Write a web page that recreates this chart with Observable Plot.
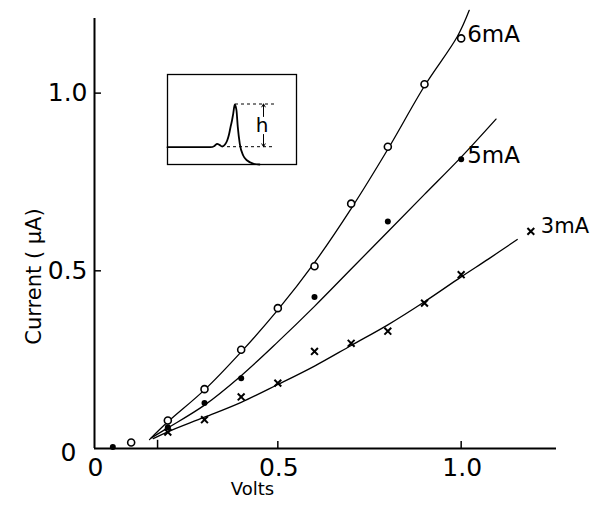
<!DOCTYPE html>
<html>
<head>
<meta charset="utf-8">
<script src="https://cdn.jsdelivr.net/npm/d3@7"></script>
<script src="https://cdn.jsdelivr.net/npm/@observablehq/plot@0.6"></script>
<style>
  html, body { margin: 0; padding: 0; background: #fff; }
  #wrap { position: relative; width: 593px; height: 506px; background: #fff; }
  #inset { position: absolute; left: 167px; top: 74px; }
  svg { overflow: visible; }
</style>
</head>
<body>
<div id="wrap"><div id="main"></div><div id="inset"></div></div>
<script>
// ---- measured points (Volts, µA) ----
const volts6 = [0.1, 0.2, 0.3, 0.4, 0.5, 0.6, 0.7, 0.8, 0.9, 1.0];
const current6 = [0.017, 0.079, 0.167, 0.278, 0.395, 0.513, 0.689, 0.849, 1.025, 1.154];
const volts5 = [0.05, 0.2, 0.3, 0.4, 0.6, 0.8, 1.0];
const current5 = [0.004, 0.06, 0.128, 0.198, 0.426, 0.639, 0.814];
const volts3 = [0.2, 0.3, 0.4, 0.5, 0.6, 0.7, 0.8, 0.9, 1.0, 1.19];
const current3 = [0.046, 0.081, 0.145, 0.184, 0.273, 0.296, 0.33, 0.409, 0.489, 0.611];

// ---- drawn curves ----
const fitVolts6 = [0.15, 0.2, 0.3, 0.4, 0.5, 0.6, 0.7, 0.8, 0.9, 0.99, 1.022];
const fitCurrent6 = [0.025, 0.075, 0.165, 0.272, 0.39, 0.523, 0.675, 0.842, 1.02, 1.16, 1.233];
const fitVolts5 = [0.155, 0.2, 0.3, 0.4, 0.5, 0.6, 0.7, 0.8, 0.9, 1.0, 1.095];
const fitCurrent5 = [0.03, 0.058, 0.122, 0.205, 0.3, 0.4, 0.505, 0.61, 0.715, 0.82, 0.927];
const fitVolts3 = [0.16, 0.2, 0.3, 0.4, 0.5, 0.6, 0.7, 0.8, 0.9, 1.0, 1.074, 1.153];
const fitCurrent3 = [0.028, 0.047, 0.088, 0.13, 0.18, 0.232, 0.29, 0.348, 0.413, 0.483, 0.533, 0.588];

const seriesLabels = ["6mA", "5mA", "3mA"];

// ---- axes ----
const xTickValues = [0, 0.5, 1.0];
const xTickLabels = ["0", "0.5", "1.0"];
const yTickValues = [0.5, 1.0];
const yTickLabels = ["0.5", "1.0"];
const yZeroLabel = ["0"];
const thresholdVolts = [0.172];
const xTitle = "Volts";
const yTitle = "Current ( \u03BCA)";

// ---- inset trace (arbitrary units) ----
const traceX = [0, 43, 47, 49.7, 52, 54.7, 57.5, 59.7, 61.5, 63, 64.5, 65.7, 67.3, 68.2, 69, 70.3, 72.3, 75.7, 79.7, 86.3, 92];
const traceY = [17.3, 17.3, 18.6, 20.7, 19.6, 18, 20, 24, 30, 37.3, 44, 50.7, 60, 58, 54, 37.3, 20.7, 9, 4, 0.7, 0];
const guideLevels = [60.5, 17.8];
const guideStarts = [68, 60];
const guideEnd = [108, 108];
const arrowX = [96, 96];
const arrowFrom = [48, 30];
const arrowTo = [60.5, 17.8];
const insetLabel = ["h"];
const insetLabelPos = [94.7, 39];

const rows = (xs, ys) => xs.map((x, i) => ({x, y: ys[i]}));
const pts6 = rows(volts6, current6);
const pts5 = rows(volts5, current5);
const pts3 = rows(volts3, current3);
const fit6 = rows(fitVolts6, fitCurrent6);
const fit5 = rows(fitVolts5, fitCurrent5);
const fit3 = rows(fitVolts3, fitCurrent3);

const font = "DejaVu Sans, Liberation Sans, sans-serif";

const main = Plot.plot({
  width: 593,
  height: 506,
  marginLeft: 94,
  marginRight: 37,
  marginTop: 18,
  marginBottom: 58,
  x: {domain: [0, 1.26], axis: null},
  y: {domain: [0, 1.21], axis: null},
  style: {fontFamily: font, background: "white", color: "black", overflow: "visible"},
  marks: [
    Plot.ruleY([0], {strokeWidth: 2}),
    Plot.ruleX([0], {strokeWidth: 2}),
    Plot.ruleX(xTickValues.filter(v => v > 0), {x: d => d, y1: 0, y2: 0.02, strokeWidth: 1.5}),
    Plot.ruleY(yTickValues, {y: d => d, x1: 0, x2: 0.019, strokeWidth: 1.5}),
    Plot.ruleX(thresholdVolts, {x: d => d, y1: 0, y2: 0.023, strokeWidth: 1.5}),
    Plot.text(xTickValues, {x: d => d, frameAnchor: "bottom", lineAnchor: "middle", textAnchor: "middle", dy: 19, dx: 1, text: (d, i) => xTickLabels[i], fontSize: 25}),
    Plot.text(yTickValues, {y: d => d, frameAnchor: "left", lineAnchor: "middle", textAnchor: "end", dx: -7, text: (d, i) => yTickLabels[i], fontSize: 25}),
    Plot.text(yZeroLabel, {frameAnchor: "bottom-left", lineAnchor: "middle", textAnchor: "end", dx: -18, dy: 4, text: d => d, fontSize: 25}),
    Plot.text([xTitle], {frameAnchor: "bottom-left", lineAnchor: "middle", textAnchor: "middle", dx: 158, dy: 41, text: d => d, fontSize: 18}),
    Plot.text([yTitle], {frameAnchor: "left", lineAnchor: "middle", textAnchor: "middle", rotate: -90, dx: -60, dy: 43, text: d => d, fontSize: 21}),
    Plot.line(fit6, {x: "x", y: "y", curve: "catmull-rom", strokeWidth: 1.3}),
    Plot.line(fit5, {x: "x", y: "y", curve: "catmull-rom", strokeWidth: 1.3}),
    Plot.line(fit3, {x: "x", y: "y", curve: "catmull-rom", strokeWidth: 1.3}),
    Plot.dot(pts6, {x: "x", y: "y", r: 3.5, stroke: "black", fill: "white", strokeWidth: 1.6}),
    Plot.dot(pts5, {x: "x", y: "y", r: 3, fill: "black"}),
    Plot.dot(pts3, {x: "x", y: "y", r: 3.2, symbol: "times", stroke: "black", strokeWidth: 2}),
    Plot.text([pts6[pts6.length - 1], pts5[pts5.length - 1]], {x: "x", y: "y", text: (d, i) => seriesLabels[i], textAnchor: "start", lineAnchor: "middle", dx: 6, dy: -4, fontSize: 23}),
    Plot.text([pts3[pts3.length - 1]], {x: "x", y: "y", text: () => seriesLabels[2], textAnchor: "start", lineAnchor: "middle", dx: 10, dy: -5, fontSize: 21})
  ]
});
document.getElementById("main").appendChild(main);

const trace = rows(traceX, traceY);
const guides = guideLevels.map((y, i) => ({y, x1: guideStarts[i], x2: guideEnd[i]}));
const arrows = arrowX.map((x, i) => ({x, y1: arrowFrom[i], y2: arrowTo[i]}));

const inset = Plot.plot({
  width: 129,
  height: 90,
  margin: 0,
  x: {domain: [0, 129], axis: null},
  y: {domain: [0, 90], axis: null},
  style: {fontFamily: font, background: "transparent", overflow: "visible"},
  marks: [
    Plot.frame({stroke: "black", strokeWidth: 1.3}),
    Plot.ruleY(guides, {y: "y", x1: "x1", x2: "x2", strokeDasharray: "3,3", strokeWidth: 1}),
    Plot.line(trace, {x: "x", y: "y", curve: "monotone-x", strokeWidth: 1.8}),
    Plot.arrow(arrows, {x1: "x", x2: "x", y1: "y1", y2: "y2", headLength: 5, strokeWidth: 1}),
    Plot.text(insetLabel, {x: () => insetLabelPos[0], y: () => insetLabelPos[1], text: d => d, fontSize: 20})
  ]
});
document.getElementById("inset").appendChild(inset);
</script>
</body>
</html>
